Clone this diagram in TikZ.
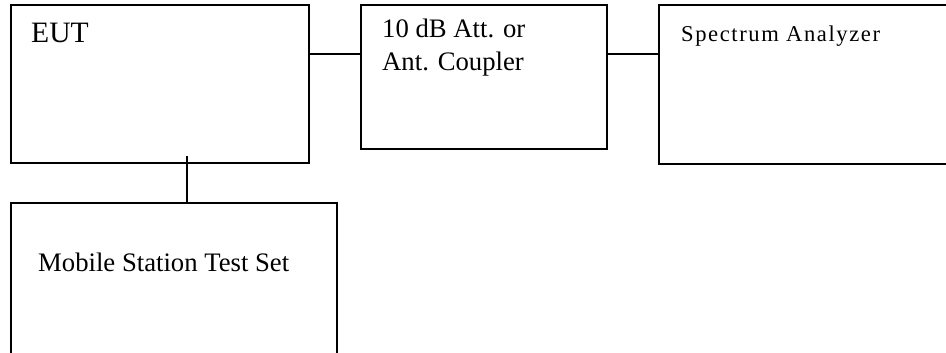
\documentclass[tikz,border=0pt]{standalone}
\usepackage{fontspec}
\setmainfont{Liberation Serif}
\usetikzlibrary{positioning}

\begin{document}
\begin{tikzpicture}[
    x=1pt, y=-1pt,
        unit/.style = {rectangle, draw, line width=1.9pt, inner sep=0pt},
         txt/.style = {anchor=base west, inner sep=0pt, align=left,
                       font=\fontsize{26.7}{33}\selectfont}
                    ]
\useasboundingbox (0,0) rectangle (946,353);
\node (eut)[unit, minimum width=298pt, minimum height=158pt] at (160,84) {};
\node (att)[unit, minimum width=246pt, minimum height=144pt] at (484,77) {};
\node (sa) [unit, minimum width=301pt, minimum height=159pt] at (809.5,84.5) {};
\node (mss)[unit, minimum width=326pt, minimum height=167pt] at (174,286.5) {};
\node (eutlbl)[txt, font=\fontsize{29.6}{33}\selectfont] at (31,43) {EUT};
\node (attlbl)[txt] at (382,71) {10 dB Att. or\\Ant. Coupler};
\node (salbl) [txt, font=\fontsize{22.6}{28}\selectfont\addfontfeature{LetterSpace=7}] at (681,42) {Spectrum Analyzer};
\node (msslbl)[txt] at (38,271) {Mobile Station Test Set};
\draw[line width=1.9pt] ([yshift=-50pt]eut.north east) -- ([yshift=-50pt]att.north west);
\draw[line width=1.9pt] ([yshift=-50pt]att.north east) -- ([yshift=-50pt]sa.north west);
\draw[line width=1.9pt] ([shift={(27pt,8pt)}]eut.south) coordinate (tap) -- (tap |- mss.north);
\end{tikzpicture}
\end{document}
